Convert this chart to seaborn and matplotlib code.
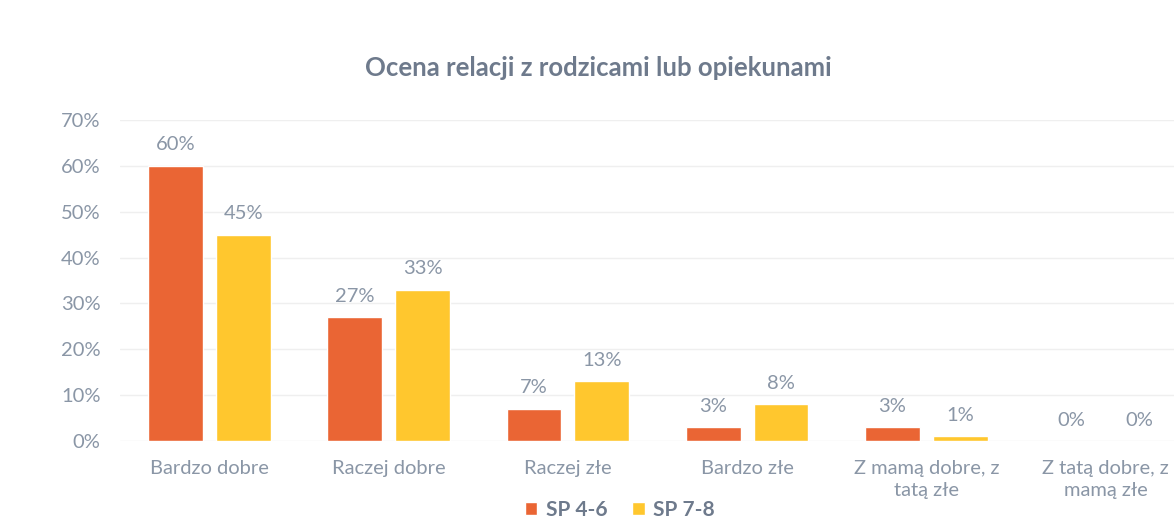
import numpy as np
import pandas as pd
import matplotlib
matplotlib.use('Agg')
import matplotlib.pyplot as plt
import seaborn as sns

categories = ['Bardzo dobre', 'Raczej dobre', 'Raczej złe', 'Bardzo złe',
              'Z mamą dobre, z\ntatą złe', 'Z tatą dobre, z\nmamą złe']
sp_4_6 = [60, 27, 7, 3, 3, 0]
sp_7_8 = [45, 33, 13, 8, 1, 0]
groups = ['SP 4-6', 'SP 7-8']

df = pd.DataFrame({
    'kategoria': categories * 2,
    'wartosc': sp_4_6 + sp_7_8,
    'grupa': [groups[0]] * len(categories) + [groups[1]] * len(categories),
})

sns.set_style('white')
plt.rcParams['font.family'] = ['Lato', 'DejaVu Sans']

txt_col = '#8A96A6'
fs = 14.5
pal = {'SP 4-6': '#EA6534', 'SP 7-8': '#FFC72E'}

fig = plt.figure(figsize=(11.74, 5.2), dpi=100)
ax = fig.add_axes([120 / 1174, 1 - 441 / 520, 1075 / 1174, 321 / 520])

sns.barplot(data=df, x='kategoria', y='wartosc', hue='grupa', palette=pal,
            width=0.756, gap=0.19, saturation=1, ax=ax, legend=True)

ax.set_ylim(0, 70)
ax.set_yticks(np.arange(0, 71, 10))
ax.set_yticklabels([f'{v}%' for v in range(0, 71, 10)], color=txt_col, fontsize=fs)
ax.tick_params(axis='x', colors=txt_col, labelsize=fs, length=0, pad=14)
ax.tick_params(axis='y', length=0, pad=14)
for lbl in ax.get_xticklabels():
    lbl.set_color(txt_col)
    lbl.set_linespacing(1.35)
ax.set_xlabel('')
ax.set_ylabel('')
ax.yaxis.grid(True, color='#EFEFEF', linewidth=1)
ax.set_axisbelow(True)
for s in ax.spines.values():
    s.set_visible(False)

for cont in ax.containers:
    ax.bar_label(cont, labels=[f'{int(v)}%' for v in cont.datavalues],
                 padding=9, color=txt_col, fontsize=fs)

handles, labels = ax.get_legend_handles_labels()
ax.get_legend().remove()
leg = fig.legend(handles, labels, loc='center', bbox_to_anchor=(620 / 1174, 1 - 510 / 520),
                 ncol=2, frameon=False, handlelength=0.6, handleheight=0.6,
                 handletextpad=0.4, columnspacing=1.2,
                 prop={'weight': 'bold', 'size': 15})
for t in leg.get_texts():
    t.set_color('#6E7A8C')

fig.text(598 / 1174, 1 - 68 / 520, 'Ocena relacji z rodzicami lub opiekunami',
         ha='center', va='center', fontsize=18.5, fontweight='bold', color='#6E7A8C')

fig.savefig('out.png', dpi=100, facecolor='white')
